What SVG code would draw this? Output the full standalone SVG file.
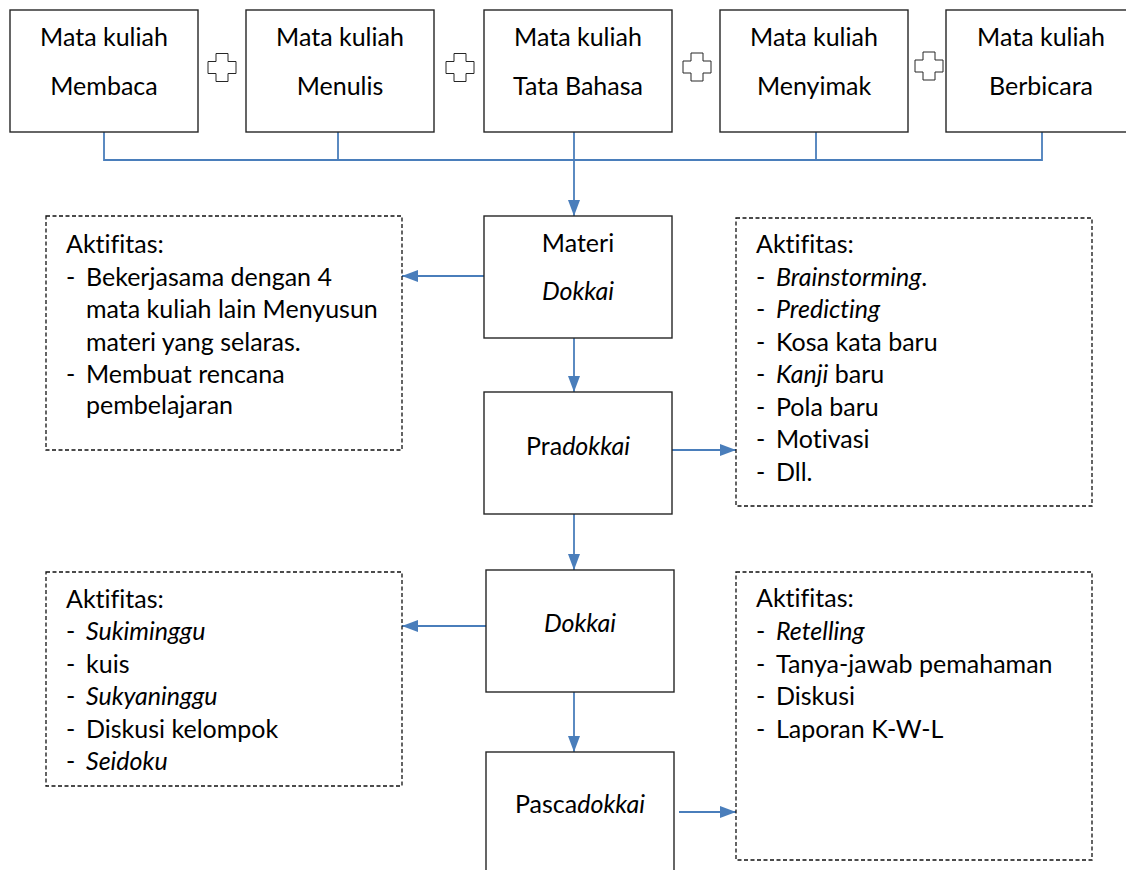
<svg xmlns="http://www.w3.org/2000/svg" width="1126" height="870" viewBox="0 0 1126 870">
<style>
.box{fill:#fff;stroke:#262626;stroke-width:1.4}
.dash{fill:#fff;stroke:#111;stroke-width:1.3;stroke-dasharray:4 2.5}
.plus{fill:#fff;stroke:#262626;stroke-width:1}
.t{font-family:Lato,"Liberation Sans",sans-serif;font-size:25px;fill:#000;font-variant-ligatures:none}
.c{text-anchor:middle}
.i{font-style:italic}
.ln{fill:none;stroke:#4a7ebb;stroke-width:1.8}
</style>
<defs>
<marker id="ah" viewBox="0 0 16 12" refX="16" refY="6" markerWidth="16" markerHeight="12" markerUnits="userSpaceOnUse" orient="auto">
<path d="M0,0 L16,6 L0,12 z" fill="#4a7ebb"/>
</marker>
</defs>
<rect width="1126" height="870" fill="#fff"/>

<g id="connectors">
<path class="ln" d="M104,132 V160 H1042 V132 M338,132 V160 M816,132 V160"/>
<path class="ln" d="M574,132 V216" marker-end="url(#ah)"/>
<path class="ln" d="M484,276 H402" marker-end="url(#ah)"/>
<path class="ln" d="M574,338 V392" marker-end="url(#ah)"/>
<path class="ln" d="M672,450 H736" marker-end="url(#ah)"/>
<path class="ln" d="M574,514 V570" marker-end="url(#ah)"/>
<path class="ln" d="M486,626 H402" marker-end="url(#ah)"/>
<path class="ln" d="M574,692 V752" marker-end="url(#ah)"/>
<path class="ln" d="M679,812 H736" marker-end="url(#ah)"/>
</g>

<g id="plus-signs">
<path class="plus" d="M216,53.5 h12 v8 h8 v12 h-8 v8 h-12 v-8 h-8 v-12 h8 z"/>
<path class="plus" d="M454,53.5 h12 v8 h8 v12 h-8 v8 h-12 v-8 h-8 v-12 h8 z"/>
<path class="plus" d="M691,53 h12 v8 h8 v12 h-8 v8 h-12 v-8 h-8 v-12 h8 z"/>
<path class="plus" d="M923,52 h12 v8 h8 v12 h-8 v8 h-12 v-8 h-8 v-12 h8 z"/>
</g>

<g id="mk-membaca">
<rect class="box" x="10" y="10" width="188" height="122"/>
<text class="t c" x="104" y="46">Mata kuliah</text>
<text class="t c" x="104" y="95">Membaca</text>
</g>
<g id="mk-menulis">
<rect class="box" x="246" y="10" width="188" height="122"/>
<text class="t c" x="340" y="46">Mata kuliah</text>
<text class="t c" x="340" y="95">Menulis</text>
</g>
<g id="mk-tatabahasa">
<rect class="box" x="484" y="10" width="188" height="122"/>
<text class="t c" x="578" y="46">Mata kuliah</text>
<text class="t c" x="578" y="95">Tata Bahasa</text>
</g>
<g id="mk-menyimak">
<rect class="box" x="720" y="10" width="188" height="122"/>
<text class="t c" x="814" y="46">Mata kuliah</text>
<text class="t c" x="814" y="95">Menyimak</text>
</g>
<g id="mk-berbicara">
<rect class="box" x="946" y="10" width="200" height="122"/>
<text class="t c" x="1041" y="46">Mata kuliah</text>
<text class="t c" x="1041" y="95">Berbicara</text>
</g>

<g id="materi">
<rect class="box" x="484" y="216" width="188" height="122"/>
<text class="t c" x="578" y="252">Materi</text>
<text class="t c i" x="578" y="300">Dokkai</text>
</g>
<g id="pradokkai">
<rect class="box" x="484" y="392" width="188" height="122"/>
<text class="t c" x="578" y="455">Pra<tspan class="i">dokkai</tspan></text>
</g>
<g id="dokkai">
<rect class="box" x="486" y="570" width="188" height="122"/>
<text class="t c i" x="580" y="632">Dokkai</text>
</g>
<g id="pascadokkai">
<rect class="box" x="486" y="752" width="188" height="130"/>
<text class="t c" x="580" y="813">Pasca<tspan class="i">dokkai</tspan></text>
</g>

<g id="aktifitas-materi">
<rect class="dash" x="46" y="216" width="356" height="234"/>
<text class="t" x="66" y="253">Aktifitas:</text>
<text class="t" x="66" y="286">-</text><text class="t" x="86" y="286">Bekerjasama dengan 4</text>
<text class="t" x="86" y="318">mata kuliah lain Menyusun</text>
<text class="t" x="86" y="351">materi yang selaras.</text>
<text class="t" x="66" y="383">-</text><text class="t" x="86" y="383">Membuat rencana</text>
<text class="t" x="86" y="414">pembelajaran</text>
</g>

<g id="aktifitas-pradokkai">
<rect class="dash" x="736" y="218" width="356" height="288"/>
<text class="t" x="756" y="253">Aktifitas:</text>
<text class="t" x="756" y="286">-</text><text class="t" x="776" y="286"><tspan class="i">Brainstorming</tspan>.</text>
<text class="t" x="756" y="318">-</text><text class="t i" x="776" y="318">Predicting</text>
<text class="t" x="756" y="351">-</text><text class="t" x="776" y="351">Kosa kata baru</text>
<text class="t" x="756" y="383">-</text><text class="t" x="776" y="383"><tspan class="i">Kanji</tspan> baru</text>
<text class="t" x="756" y="416">-</text><text class="t" x="776" y="416">Pola baru</text>
<text class="t" x="756" y="448">-</text><text class="t" x="776" y="448">Motivasi</text>
<text class="t" x="756" y="481">-</text><text class="t" x="776" y="481">Dll.</text>
</g>

<g id="aktifitas-dokkai">
<rect class="dash" x="46" y="572" width="356" height="214"/>
<text class="t" x="66" y="608">Aktifitas:</text>
<text class="t" x="66" y="640">-</text><text class="t i" x="86" y="640">Sukiminggu</text>
<text class="t" x="66" y="673">-</text><text class="t" x="86" y="673">kuis</text>
<text class="t" x="66" y="705">-</text><text class="t i" x="86" y="705">Sukyaninggu</text>
<text class="t" x="66" y="738">-</text><text class="t" x="86" y="738">Diskusi kelompok</text>
<text class="t" x="66" y="770">-</text><text class="t i" x="86" y="770">Seidoku</text>
</g>

<g id="aktifitas-pascadokkai">
<rect class="dash" x="736" y="572" width="356" height="288"/>
<text class="t" x="756" y="607">Aktifitas:</text>
<text class="t" x="756" y="640">-</text><text class="t i" x="776" y="640">Retelling</text>
<text class="t" x="756" y="673">-</text><text class="t" x="776" y="673">Tanya-jawab pemahaman</text>
<text class="t" x="756" y="705">-</text><text class="t" x="776" y="705">Diskusi</text>
<text class="t" x="756" y="738">-</text><text class="t" x="776" y="738">Laporan K-W-L</text>
</g>
</svg>
